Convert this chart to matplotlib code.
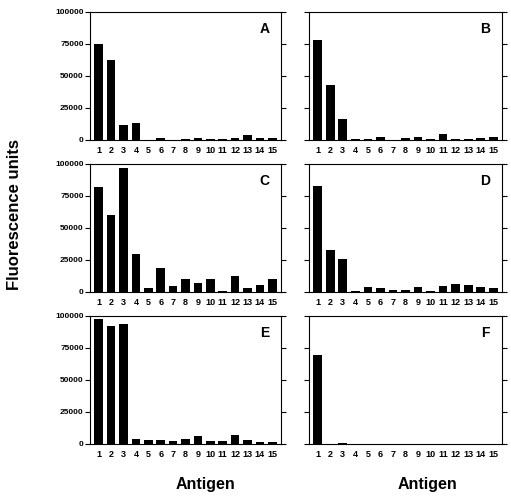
# Fluorescence units per antigen, six panels A-F
import numpy as np
import matplotlib.pyplot as plt

plt.rcParams['font.family'] = ['Liberation Sans', 'DejaVu Sans']
plt.rcParams['font.weight'] = 'bold'

antigens = list(range(1, 16))
panel_labels = ['A', 'B', 'C', 'D', 'E', 'F']

# values
vals_a = [75000, 62500, 12000, 13100, 200, 1800, 200, 500, 1800, 700, 1000, 1300, 3700, 1500, 1500]
vals_b = [78400, 42600, 16100, 500, 700, 2300, 300, 1500, 2500, 700, 4400, 1000, 800, 1800, 2000]
vals_c = [81700, 60000, 96600, 29300, 3100, 19100, 4500, 10200, 7100, 10000, 1000, 12300, 3300, 5800, 10200]
vals_d = [83200, 32700, 25700, 1000, 3700, 3400, 1300, 1800, 3700, 1000, 4700, 6500, 5800, 4200, 2900]
vals_e = [97700, 92000, 93500, 3900, 3400, 3100, 2100, 4100, 6200, 2100, 2300, 7300, 3400, 1500, 1200]
vals_f = [69900, 0, 800, 0, 0, 0, 0, 300, 300, 0, 0, 0, 0, 0, 0]

all_vals = [vals_a, vals_b, vals_c, vals_d, vals_e, vals_f]
yticks = [0, 25000, 50000, 75000, 100000]

fig = plt.figure(figsize=(5.11, 5.04), dpi=100)

W, H = 511.0, 504.0
lefts = [90, 309]
widths = [191, 193]
tops = [12, 164, 316]
h = 128

for i, vals in enumerate(all_vals):
    row, col = divmod(i, 2)
    ax = fig.add_axes([lefts[col] / W, (H - tops[row] - h) / H,
                       widths[col] / W, h / H])
    ax.bar(antigens, vals, width=0.7, color='black')
    ax.set_xlim(0.3, 15.7)
    ax.set_ylim(0, 100000)
    ax.set_yticks(yticks)
    ax.set_xticks(antigens)
    ax.set_xticklabels([str(a) for a in antigens], fontsize=6.5, fontweight='bold')
    ax.tick_params(axis='x', length=0, pad=4)
    ax.tick_params(axis='y', which='both', left=True, right=True, direction='out',
                   length=3.5, width=0.8, labelsize=6, pad=1)
    if col == 0:
        ax.set_yticklabels([str(t) for t in yticks], fontweight='bold')
    else:
        ax.set_yticklabels([])
    for s in ax.spines.values():
        s.set_linewidth(0.8)
    ax.text(0.915, 0.865, panel_labels[i], transform=ax.transAxes,
            ha='center', va='center', fontsize=10, fontweight='bold')

fig.text(15 / W, 1 - 215 / H, 'Fluorescence units', rotation=90,
         ha='center', va='center', fontsize=12, fontweight='bold')
fig.text(205 / W, 1 - 485 / H, 'Antigen', ha='center', va='center',
         fontsize=11.5, fontweight='bold')
fig.text(427 / W, 1 - 485 / H, 'Antigen', ha='center', va='center',
         fontsize=11.5, fontweight='bold')

fig.savefig('out.png', dpi=100)
